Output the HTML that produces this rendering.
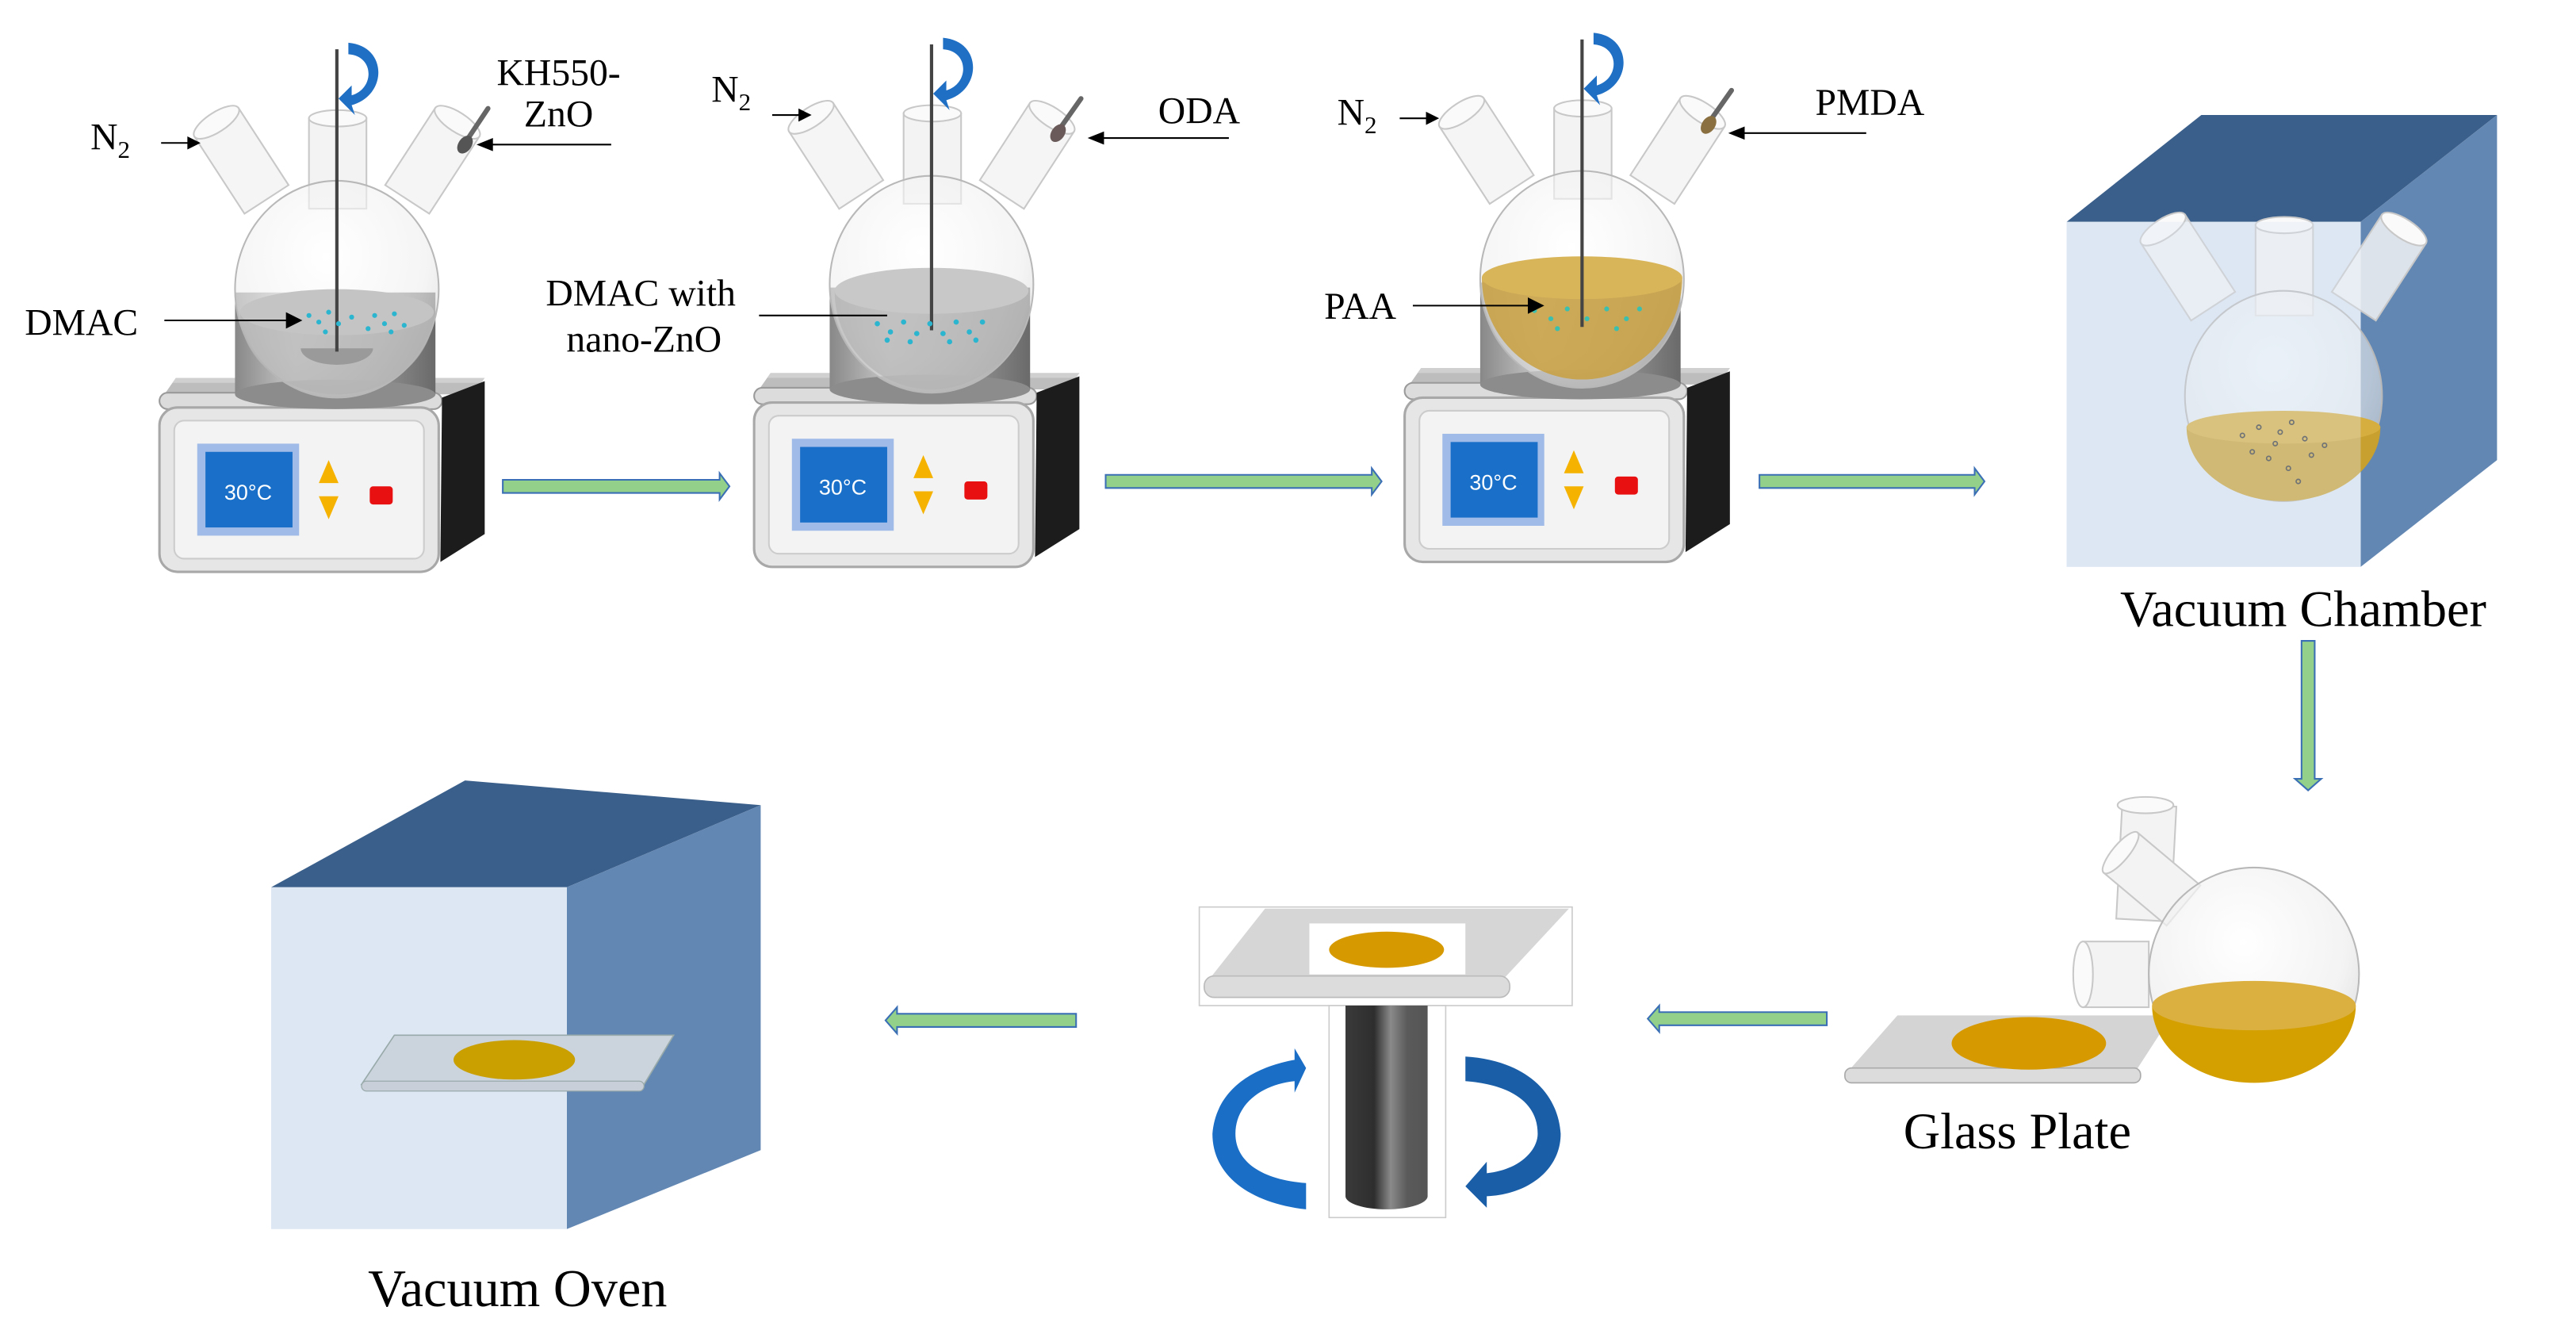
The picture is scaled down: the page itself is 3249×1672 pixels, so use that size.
<!DOCTYPE html>
<html><head><meta charset="utf-8"><style>
html,body{margin:0;padding:0;background:#fff}
svg{display:block}
text{font-family:"Liberation Serif",serif;fill:#000}
</style></head><body>
<svg width="3249" height="1672" viewBox="0 0 1568 807" xmlns="http://www.w3.org/2000/svg">
<defs>
<linearGradient id="holder" x1="0" x2="1" y1="0" y2="0">
<stop offset="0" stop-color="#888"/><stop offset="0.3" stop-color="#c8c8c8"/><stop offset="0.6" stop-color="#a0a0a0"/><stop offset="1" stop-color="#6a6a6a"/></linearGradient>
<linearGradient id="cyl" x1="0" x2="1" y1="0" y2="0">
<stop offset="0" stop-color="#3a3a3a"/><stop offset="0.35" stop-color="#2e2e2e"/><stop offset="0.55" stop-color="#8a8a8a"/><stop offset="0.75" stop-color="#5a5a5a"/><stop offset="1" stop-color="#555"/></linearGradient>
<radialGradient id="glass" cx="0.45" cy="0.35" r="0.7">
<stop offset="0" stop-color="#ffffff"/><stop offset="0.7" stop-color="#eeeeee"/><stop offset="1" stop-color="#d0d0d0"/></radialGradient>
<g id="plate">
<polygon points="7,0 195,0 187,10 0,10" fill="#bdbdbd"/>
<polygon points="7,0 195,0 193,3 5,3" fill="#d0d0d0"/>
<rect x="-3" y="9" width="172" height="10" rx="5" fill="#dcdcdc" stroke="#9a9a9a" stroke-width="1"/>
<polygon points="169,12 195,2 195,95 168,112" fill="#1c1c1c"/>
<rect x="-3" y="18" width="170" height="100" rx="11" fill="#e6e6e6" stroke="#a8a8a8" stroke-width="1.5"/>
<rect x="6" y="26" width="152" height="84" rx="6" fill="#f3f3f3" stroke="#ccc" stroke-width="1"/>
<rect x="20" y="40" width="62" height="56" fill="#a0bbe8"/>
<rect x="25" y="45" width="53" height="46" fill="#1a70c8"/>
<text x="51" y="74" text-anchor="middle" style="font-family:'Liberation Sans',sans-serif;font-size:13px;fill:#fff">30°C</text>
<polygon points="100,50 94,64 106,64" fill="#f5b300"/>
<polygon points="94,72 106,72 100,86" fill="#f5b300"/>
<rect x="125" y="66" width="14" height="11" rx="2" fill="#e81010"/>
</g>
<g id="flaskTop">
<g transform="rotate(-33 160 118)"><rect x="144" y="66" width="32" height="56" fill="#f3f3f3" fill-opacity="0.85" stroke="#c8c8c8"/><ellipse cx="160" cy="66" rx="16" ry="6" fill="#fafafa" stroke="#c8c8c8"/></g>
<g transform="rotate(33 250 118)"><rect x="234" y="66" width="32" height="56" fill="#f3f3f3" fill-opacity="0.85" stroke="#c8c8c8"/><ellipse cx="250" cy="66" rx="16" ry="6" fill="#fafafa" stroke="#c8c8c8"/></g>
<rect x="188" y="72" width="35" height="55" fill="#f3f3f3" stroke="#c8c8c8"/>
<ellipse cx="205.5" cy="72" rx="17.5" ry="5" fill="#fafafa" stroke="#c8c8c8"/>
</g>
</defs>

<!-- green arrows -->
<g fill="#93d08a" stroke="#3b6fb5" stroke-width="1">
<polygon points="306,292 438,292 438,288 444,296 438,304 438,300 306,300"/>
<polygon points="673,289 835,289 835,285 841,293 835,301 835,297 673,297"/>
<polygon points="1071,289 1202,289 1202,285 1208,293 1202,301 1202,297 1071,297"/>
<polygon points="1401,390 1409,390 1409,474 1413,474 1405,481 1397,474 1401,474"/>
<polygon points="1112,616 1010,616 1010,612 1003,620 1010,628 1010,624 1112,624"/>
<polygon points="655,617 546,617 546,613 539,621 546,629 546,625 655,625"/>
</g>

<!-- Stage 1 -->
<g id="st1">
<use href="#plate" x="100" y="230"/>
<use href="#flaskTop"/>
<rect x="143" y="178" width="122" height="62" fill="url(#holder)"/>
<ellipse cx="204" cy="240" rx="61" ry="9" fill="#8c8c8c"/>
<ellipse cx="205" cy="176" rx="62" ry="66" fill="url(#glass)" fill-opacity="0.6" stroke="#b8b8b8"/>
<path d="M146,190 A59,50 0 0 0 264,190 Z" fill="#b4b4b4" fill-opacity="0.7"/>
<ellipse cx="205" cy="190" rx="59" ry="14" fill="#c4c4c4"/>
<path d="M183,212 A22,10 0 0 0 227,212 Z" fill="#9a9a9a"/>
<line x1="205" y1="30" x2="205" y2="214" stroke="#444" stroke-width="2"/>
<g fill="#2bb5cf">
<circle cx="188" cy="192" r="1.5"/><circle cx="194" cy="196" r="1.5"/><circle cx="200" cy="190" r="1.5"/><circle cx="206" cy="197" r="1.5"/><circle cx="198" cy="202" r="1.5"/><circle cx="214" cy="193" r="1.5"/><circle cx="228" cy="192" r="1.5"/><circle cx="234" cy="197" r="1.5"/><circle cx="240" cy="191" r="1.5"/><circle cx="246" cy="198" r="1.5"/><circle cx="238" cy="202" r="1.5"/><circle cx="224" cy="200" r="1.5"/>
</g>
<path d="M212,26 C236,28 236,58 214,64 L216,70 L206,60 L214,52 L214,58 C228,54 228,34 212,33 Z" fill="#1f6fc5"/>
</g>

<!-- Stage 2 -->
<g transform="translate(362,-3)">
<use href="#plate" x="100" y="230"/>
<use href="#flaskTop"/>
<rect x="143" y="178" width="122" height="62" fill="url(#holder)"/>
<ellipse cx="204" cy="240" rx="61" ry="9" fill="#8c8c8c"/>
<ellipse cx="205" cy="176" rx="62" ry="66" fill="url(#glass)" fill-opacity="0.6" stroke="#b8b8b8"/>
<path d="M146,180 A59,60 0 0 0 264,180 Z" fill="#b4b4b4" fill-opacity="0.7"/>
<ellipse cx="205" cy="180" rx="59" ry="14" fill="#c8c8c8"/>
<line x1="205" y1="30" x2="205" y2="204" stroke="#444" stroke-width="2"/>
<g fill="#2bb5cf">
<circle cx="172" cy="200" r="1.6"/><circle cx="180" cy="205" r="1.6"/><circle cx="188" cy="199" r="1.6"/><circle cx="196" cy="206" r="1.6"/><circle cx="204" cy="200" r="1.6"/><circle cx="212" cy="206" r="1.6"/><circle cx="220" cy="199" r="1.6"/><circle cx="228" cy="205" r="1.6"/><circle cx="236" cy="199" r="1.6"/><circle cx="178" cy="210" r="1.6"/><circle cx="192" cy="211" r="1.6"/><circle cx="216" cy="211" r="1.6"/><circle cx="232" cy="210" r="1.6"/>
</g>
<path d="M212,26 C236,28 236,58 214,64 L216,70 L206,60 L214,52 L214,58 C228,54 228,34 212,33 Z" fill="#1f6fc5"/>
</g>

<!-- Stage 3 -->
<g transform="translate(758,-6)">
<use href="#plate" x="100" y="230"/>
<use href="#flaskTop"/>
<rect x="143" y="178" width="122" height="62" fill="url(#holder)"/>
<ellipse cx="204" cy="240" rx="61" ry="9" fill="#8c8c8c"/>
<ellipse cx="205" cy="176" rx="62" ry="66" fill="url(#glass)" fill-opacity="0.6" stroke="#b8b8b8"/>
<path d="M144,175 A61,62 0 0 0 266,175 Z" fill="#c8a040" fill-opacity="0.85"/>
<ellipse cx="205" cy="175" rx="61" ry="13" fill="#d9b55a"/>
<line x1="205" y1="30" x2="205" y2="205" stroke="#444" stroke-width="2"/>
<g fill="#3dbfae">
<circle cx="176" cy="195" r="1.5"/><circle cx="186" cy="200" r="1.5"/><circle cx="196" cy="194" r="1.5"/><circle cx="208" cy="200" r="1.5"/><circle cx="220" cy="194" r="1.5"/><circle cx="232" cy="200" r="1.5"/><circle cx="240" cy="194" r="1.5"/><circle cx="190" cy="206" r="1.5"/><circle cx="226" cy="206" r="1.5"/>
</g>
<path d="M212,26 C236,28 236,58 214,64 L216,70 L206,60 L214,52 L214,58 C228,54 228,34 212,33 Z" fill="#1f6fc5"/>
</g>

<!-- spoons -->
<g stroke-width="3" stroke-linecap="round">
<line x1="285" y1="84" x2="297" y2="66" stroke="#666"/>
<ellipse cx="283" cy="88" rx="4" ry="6" transform="rotate(35 283 88)" fill="#555" stroke="none"/>
<line x1="646" y1="77" x2="658" y2="60" stroke="#666"/>
<ellipse cx="644" cy="81" rx="4" ry="6" transform="rotate(35 644 81)" fill="#6a5a5a" stroke="none"/>
<line x1="1042" y1="72" x2="1054" y2="55" stroke="#666"/>
<ellipse cx="1040" cy="76" rx="4" ry="6" transform="rotate(35 1040 76)" fill="#8a7040" stroke="none"/>
</g>

<!-- labels & pointer arrows -->
<g stroke="#000" stroke-width="1">
<line x1="98" y1="87" x2="116" y2="87"/><line x1="372" y1="88" x2="296" y2="88"/><line x1="100" y1="195" x2="178" y2="195"/>
<line x1="470" y1="70" x2="488" y2="70"/><line x1="748" y1="84" x2="668" y2="84"/><line x1="462" y1="192" x2="540" y2="192"/>
<line x1="852" y1="72" x2="870" y2="72"/><line x1="1136" y1="81" x2="1058" y2="81"/><line x1="860" y1="186" x2="934" y2="186"/>
</g>
<g fill="#000">
<polygon points="122,87 114,83 114,91"/><polygon points="290,88 300,84 300,92"/><polygon points="184,195 174,190 174,200"/>
<polygon points="494,70 486,66 486,74"/><polygon points="662,84 672,80 672,88"/>
<polygon points="876,72 868,68 868,76"/><polygon points="1052,81 1062,77 1062,85"/><polygon points="940,186 930,181 930,191"/>
</g>
<g font-size="23">
<text x="55" y="91">N<tspan font-size="15" dy="5">2</tspan></text>
<text x="340" y="52" text-anchor="middle">KH550-</text>
<text x="340" y="77" text-anchor="middle">ZnO</text>
<text x="15" y="204">DMAC</text>
<text x="433" y="62">N<tspan font-size="15" dy="5">2</tspan></text>
<text x="705" y="75">ODA</text>
<text x="390" y="186" text-anchor="middle">DMAC with</text>
<text x="392" y="214" text-anchor="middle">nano-ZnO</text>
<text x="814" y="76">N<tspan font-size="15" dy="5">2</tspan></text>
<text x="1105" y="70">PMDA</text>
<text x="806" y="194">PAA</text>
</g>

<!-- Vacuum chamber -->
<polygon points="1258,135 1340,70 1520,70 1437,135" fill="#3a5f8a"/>
<polygon points="1437,135 1520,70 1520,280 1437,345" fill="#6287b3"/>
<rect x="1258" y="135" width="179" height="210" fill="#dde7f4"/>
<g transform="translate(1185,65)">
<use href="#flaskTop"/>
<ellipse cx="205" cy="176" rx="60" ry="64" fill="url(#glass)" fill-opacity="0.6" stroke="#b8b8b8"/>
<path d="M146,195 A59,45 0 0 0 264,195 Z" fill="#c8a030"/>
<ellipse cx="205" cy="195" rx="59" ry="10" fill="#d6ae40"/>
<g fill="none" stroke="#333" stroke-width="0.8">
<circle cx="180" cy="200" r="1.3"/><circle cx="190" cy="195" r="1.3"/><circle cx="200" cy="205" r="1.3"/><circle cx="210" cy="192" r="1.3"/><circle cx="218" cy="202" r="1.3"/><circle cx="196" cy="214" r="1.3"/><circle cx="208" cy="220" r="1.3"/><circle cx="222" cy="212" r="1.3"/><circle cx="186" cy="210" r="1.3"/><circle cx="214" cy="228" r="1.3"/><circle cx="230" cy="206" r="1.3"/><circle cx="203" cy="198" r="1.3"/>
</g>
</g>
<polygon points="1437,135 1437,345 1258,345 1258,135" fill="#dde7f4" fill-opacity="0.35"/>
<text x="1402" y="381" text-anchor="middle" font-size="31">Vacuum Chamber</text>

<!-- Glass plate + tilted flask -->
<polygon points="1155,618 1322,618 1300,652 1125,652" fill="#d4d4d4"/>
<rect x="1123" y="650" width="180" height="9" rx="4" fill="#dcdcdc" stroke="#aaa" stroke-width="0.8"/>
<ellipse cx="1235" cy="635" rx="47" ry="16" fill="#d69a00"/>
<g>
<rect x="1290" y="490" width="33" height="70" fill="#f3f3f3" stroke="#c8c8c8" transform="rotate(3 1306 525)"/>
<ellipse cx="1306" cy="490" rx="17" ry="5" fill="#fafafa" stroke="#c8c8c8"/>
<g transform="rotate(-50 1310 535)"><rect x="1294" y="510" width="32" height="50" fill="#f3f3f3" stroke="#c8c8c8"/><ellipse cx="1310" cy="510" rx="16" ry="5" fill="#fafafa" stroke="#c8c8c8"/></g>
<rect x="1268" y="573" width="40" height="40" fill="#f3f3f3" stroke="#c8c8c8"/>
<ellipse cx="1268" cy="593" rx="6" ry="20" fill="#fafafa" stroke="#c8c8c8"/>
<ellipse cx="1372" cy="593" rx="64" ry="65" fill="url(#glass)" fill-opacity="0.7" stroke="#b8b8b8"/>
<path d="M1310,612 A62,47 0 0 0 1434,612 Z" fill="#d4a000"/>
<ellipse cx="1372" cy="612" rx="62" ry="15" fill="#dcb040"/>
</g>
<text x="1228" y="699" text-anchor="middle" font-size="31">Glass Plate</text>

<!-- Spin coater -->
<rect x="730" y="552" width="227" height="60" fill="#fff" stroke="#ccc" stroke-width="0.8"/>
<polygon points="770,553 955,553 915,596 736,596" fill="#d6d6d6"/>
<rect x="733" y="594" width="186" height="13" rx="6" fill="#dcdcdc" stroke="#bbb" stroke-width="0.8"/>
<rect x="797" y="562" width="95" height="31" fill="#fff"/>
<ellipse cx="844" cy="578" rx="35" ry="11" fill="#d69a00"/>
<rect x="809" y="612" width="71" height="129" fill="#fff" stroke="#ccc" stroke-width="0.8"/>
<path d="M819,612 L869,612 L869,728 A25,8 0 0 1 819,728 Z" fill="url(#cyl)"/>
<path d="M795,650 L788,638 L788,645 C760,650 740,665 738,690 C738,715 760,732 795,736 L795,720 C768,718 752,707 752,690 C752,672 768,660 788,658 L788,665 Z" fill="#1a6ec6"/>
<path d="M892,643 C925,645 948,662 950,690 C950,712 930,727 905,728 L905,735 L892,722 L905,707 L905,714 C925,712 936,700 936,690 C936,670 918,660 892,658 Z" fill="#1a5ea8"/>

<!-- Vacuum oven -->
<polygon points="165,540 283,475 463,490 345,540" fill="#3a5f8a"/>
<polygon points="345,540 463,490 463,700 345,748" fill="#6287b3"/>
<rect x="165" y="540" width="180" height="208" fill="#dde7f4"/>
<polygon points="240,630 410,630 392,660 220,660" fill="#cbd3dc" stroke="#9aa" stroke-width="0.8"/>
<rect x="220" y="658" width="172" height="6" rx="3" fill="#c8cfd8" stroke="#9aa" stroke-width="0.6"/>
<ellipse cx="313" cy="645" rx="37" ry="12" fill="#c9a000"/>
<text x="315" y="795" text-anchor="middle" font-size="32">Vacuum Oven</text>
</svg>
</body></html>
